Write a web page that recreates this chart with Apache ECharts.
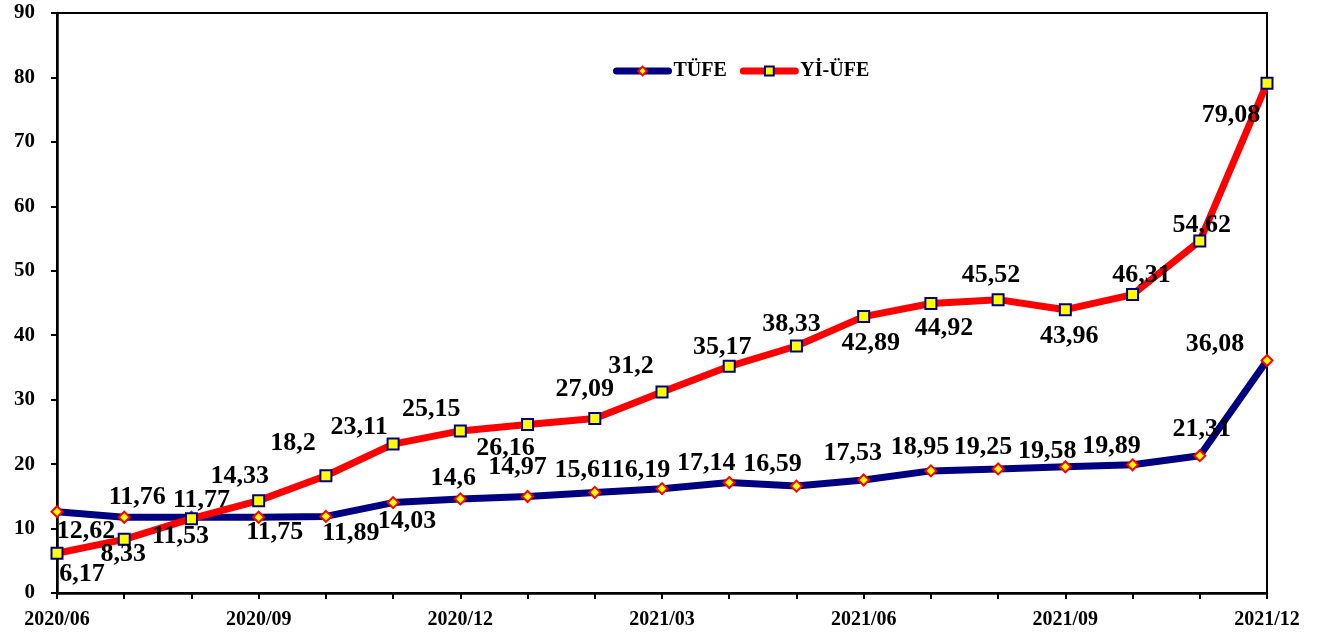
<!DOCTYPE html>
<html>
<head>
<meta charset="utf-8">
<script src="https://cdn.jsdelivr.net/npm/echarts@6/dist/echarts.min.js"></script>
<style>
  html, body { margin: 0; padding: 0; background: #fff; }
  #chart { width: 1333px; height: 638px; }
</style>
</head>
<body>
<div id="chart"></div>
<script>
  // aylar (x ekseni)
  var months = ['2020/06', '2020/07', '2020/08', '2020/09', '2020/10', '2020/11', '2020/12',
    '2021/01', '2021/02', '2021/03', '2021/04', '2021/05', '2021/06', '2021/07',
    '2021/08', '2021/09', '2021/10', '2021/11', '2021/12'];
  var tufe = [12.62, 11.76, 11.77, 11.75, 11.89, 14.03, 14.6, 14.97, 15.61, 16.19,
    17.14, 16.59, 17.53, 18.95, 19.25, 19.58, 19.89, 21.31, 36.08];
  var yiufe = [6.17, 8.33, 11.53, 14.33, 18.2, 23.11, 25.15, 26.16, 27.09, 31.2,
    35.17, 38.33, 42.89, 44.92, 45.52, 43.96, 46.31, 54.62, 79.08];
  var yTicks = [0, 10, 20, 30, 40, 50, 60, 70, 80, 90];

  // etiket kaydirmalari (nokta merkezine gore, px)
  var tufeLabelOffset = [[29, 20], [13, -20], [10, -17], [16, 15], [25, 17], [14, 19], [-7, -21],
    [-10, -29], [-11, -22], [-21, -18], [-23, -19], [-24, -22], [-11, -27], [-11, -24],
    [-15, -22], [-18, -16], [-21, -19], [2, -26], [-52, -16]];
  var yiufeLabelOffset = [[25, 21], [-1, 15], [-11, 18], [-19, -24], [-33, -32], [-34, -17], [-29, -22],
    [-22, 24], [-10, -29], [-31, -26], [-7, -19], [-5, -22], [7, 27], [13, 25],
    [-7, -24], [4, 27], [9, -19], [2, -16], [-36, 32]];

  var FONT = "'Liberation Serif', 'Times New Roman', serif";

  function fmt(v) {
    return String(v).replace('.', ',');
  }

  function buildData(values, offsets) {
    return values.map(function (v, i) {
      return {
        value: v,
        label: { offset: offsets[i] }
      };
    });
  }

  var labelStyle = {
    show: true,
    position: 'inside',
    align: 'center',
    verticalAlign: 'middle',
    color: '#000',
    fontFamily: FONT,
    fontWeight: 'bold',
    fontSize: 26,
    formatter: function (p) { return fmt(p.value); }
  };

  var chart = echarts.init(document.getElementById('chart'), null, { renderer: 'canvas' });
  chart.setOption({
    animation: false,
    backgroundColor: '#fff',
    grid: {
      left: 57,
      right: 66,
      top: 13,
      bottom: 45,
      show: true,
      borderColor: '#000',
      borderWidth: 2,
      containLabel: false,
      outerBoundsMode: 'none'
    },
    legend: {
      left: 613,
      top: 61,
      padding: 0,
      itemWidth: 52,
      itemHeight: 11,
      itemGap: 13,
      lineStyle: { width: 7, cap: 'round' },
      textStyle: {
        fontFamily: FONT,
        fontWeight: 'bold',
        fontSize: 20,
        color: '#000'
      },
      data: ['TÜFE', 'Yİ-ÜFE']
    },
    xAxis: {
      type: 'category',
      data: months,
      boundaryGap: false,
      axisLine: { lineStyle: { color: '#000', width: 2.5 } },
      axisTick: { show: true, interval: 0, length: 6, lineStyle: { color: '#000', width: 2 } },
      axisLabel: {
        interval: 2,
        margin: 17,
        color: '#000',
        fontFamily: FONT,
        fontWeight: 'bold',
        fontSize: 20
      },
      splitLine: { show: false }
    },
    yAxis: {
      type: 'value',
      min: yTicks[0],
      max: yTicks[yTicks.length - 1],
      interval: 10,
      axisLine: { show: true, lineStyle: { color: '#000', width: 2.5 } },
      axisTick: { show: true, length: 6, lineStyle: { color: '#000', width: 2 } },
      axisLabel: {
        margin: 22,
        color: '#000',
        fontFamily: FONT,
        fontWeight: 'bold',
        fontSize: 21
      },
      splitLine: { show: false }
    },
    series: [
      {
        name: 'TÜFE',
        type: 'line',
        data: buildData(tufe, tufeLabelOffset),
        symbol: 'diamond',
        symbolSize: 11,
        lineStyle: { color: '#000080', width: 7 },
        itemStyle: { color: '#ffff00', borderColor: '#ff0000', borderWidth: 2 },
        label: labelStyle,
        z: 2
      },
      {
        name: 'Yİ-ÜFE',
        type: 'line',
        data: buildData(yiufe, yiufeLabelOffset),
        symbol: 'rect',
        symbolSize: 11,
        lineStyle: { color: '#ff0000', width: 7 },
        itemStyle: { color: '#ffff00', borderColor: '#000080', borderWidth: 2 },
        label: labelStyle,
        z: 3
      }
    ]
  });
</script>
</body>
</html>
